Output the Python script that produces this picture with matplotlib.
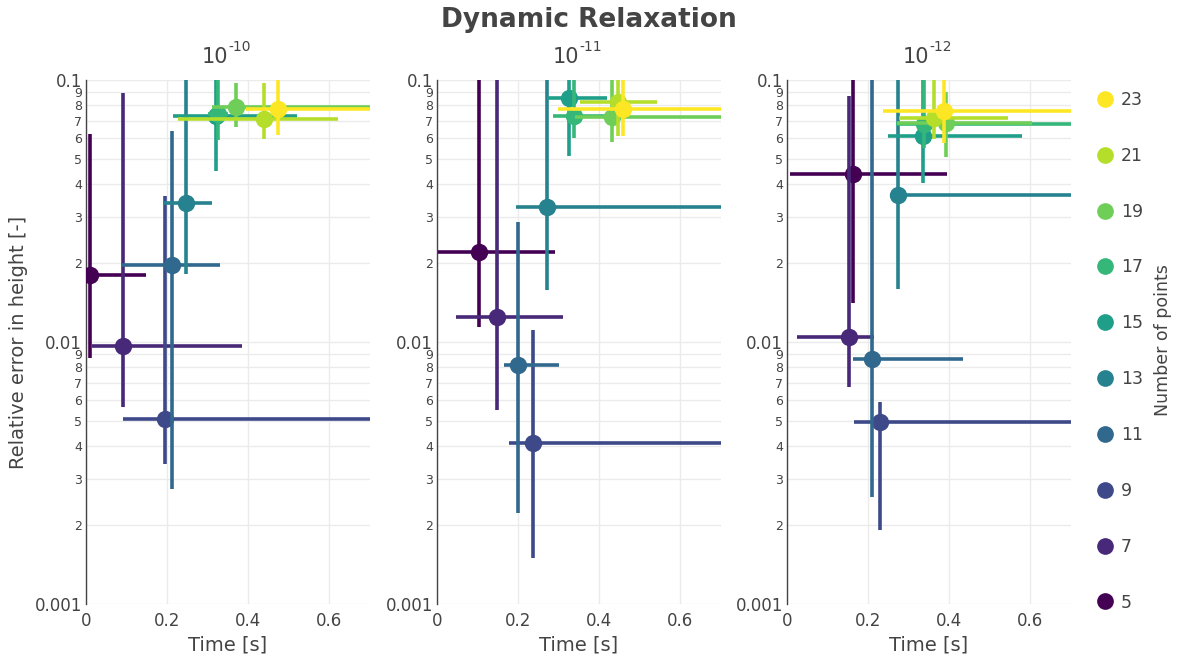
import matplotlib
matplotlib.use("Agg")
import matplotlib.pyplot as plt
from matplotlib.lines import Line2D
from matplotlib.ticker import FixedLocator, FixedFormatter, NullLocator
import numpy as np

# number of points per series (one colour each)
n_points = [5, 7, 9, 11, 13, 15, 17, 19, 21, 23]
colors = ["#440154", "#482878", "#3e4989", "#31688e", "#26828e",
          "#1f9e89", "#35b779", "#6ece58", "#b5de2b", "#fde725"]

tolerances = ["-10", "-11", "-12"]

# tolerance 1e-10
t10_x = [0.010, 0.091, 0.195, 0.212, 0.246, 0.320, 0.325, 0.369, 0.438, 0.473]
t10_y = [0.0180, 0.00966, 0.00508, 0.0197, 0.0340, 0.0730, 0.0740, 0.0789, 0.0710, 0.0775]
t10_xlo = [-0.03, 0.015, 0.091, 0.089, 0.190, 0.214, 0.300, 0.310, 0.227, 0.394]
t10_xhi = [0.148, 0.385, 0.95, 0.330, 0.310, 0.520, 0.350, 0.90, 0.620, 0.85]
t10_ylo = [0.0087, 0.00565, 0.00342, 0.00275, 0.0182, 0.045, 0.059, 0.066, 0.0595, 0.0617]
t10_yhi = [0.062, 0.089, 0.036, 0.064, 0.15, 0.15, 0.15, 0.097, 0.0974, 0.15]

# tolerance 1e-11
t11_x = [0.103, 0.148, 0.236, 0.200, 0.270, 0.325, 0.338, 0.431, 0.446, 0.458]
t11_y = [0.0221, 0.01245, 0.00412, 0.00817, 0.0327, 0.0853, 0.0730, 0.0720, 0.0824, 0.0775]
t11_xlo = [0.003, 0.047, 0.177, 0.165, 0.195, 0.270, 0.285, 0.340, 0.352, 0.298]
t11_xhi = [0.290, 0.310, 0.95, 0.300, 0.95, 0.418, 0.450, 0.95, 0.542, 0.95]
t11_ylo = [0.0114, 0.0055, 0.0015, 0.00222, 0.0158, 0.0513, 0.060, 0.058, 0.061, 0.061]
t11_yhi = [0.15, 0.15, 0.0111, 0.0287, 0.15, 0.15, 0.15, 0.15, 0.15, 0.15]

# tolerance 1e-12
t12_x = [0.163, 0.153, 0.229, 0.209, 0.273, 0.335, 0.337, 0.392, 0.362, 0.387]
t12_y = [0.0438, 0.01045, 0.00495, 0.0086, 0.0364, 0.0611, 0.0680, 0.0686, 0.0716, 0.0762]
t12_xlo = [0.007, 0.025, 0.165, 0.163, 0.254, 0.249, 0.268, 0.270, 0.276, 0.236]
t12_xhi = [0.394, 0.214, 0.95, 0.434, 0.95, 0.579, 0.95, 0.603, 0.544, 0.95]
t12_ylo = [0.0141, 0.00673, 0.00191, 0.00257, 0.0159, 0.0405, 0.055, 0.051, 0.0595, 0.0575]
t12_yhi = [0.15, 0.087, 0.0059, 0.15, 0.15, 0.15, 0.15, 0.090, 0.15, 0.15]

panels = [
    (t10_x, t10_y, t10_xlo, t10_xhi, t10_ylo, t10_yhi),
    (t11_x, t11_y, t11_xlo, t11_xhi, t11_ylo, t11_yhi),
    (t12_x, t12_y, t12_xlo, t12_xhi, t12_ylo, t12_yhi),
]

TXT = "#444444"
GRID = "#ebebeb"
W, H = 1177, 667

fig = plt.figure(figsize=(W / 100, H / 100), dpi=100)
plt.rcParams['font.family'] = ['DejaVu Sans']

# y ticks: 0.001 .. 0.1 with the in-between digits labelled small
yticks, ylabels = [], []
for dec in [0.001, 0.01]:
    for k in range(1, 10):
        yticks.append(dec * k)
        ylabels.append(str(dec) if k == 1 else str(k))
yticks.append(0.1)
ylabels.append("0.1")

lefts = [86, 437, 787]
for i, (px, py, pxlo, pxhi, pylo, pyhi) in enumerate(panels):
    ax = fig.add_axes([lefts[i] / W, (H - 604) / H, 284 / W, 524 / H])
    ax.set_yscale('log')
    for j in range(len(n_points)):
        xerr = [[px[j] - pxlo[j]], [pxhi[j] - px[j]]]
        yerr = [[py[j] - pylo[j]], [pyhi[j] - py[j]]]
        ax.errorbar([px[j]], [py[j]], xerr=xerr, yerr=yerr, fmt='o',
                    color=colors[j], ms=11.5, elinewidth=2.6, capsize=0,
                    zorder=3 + j)
    ax.set_xlim(0, 0.7)
    ax.set_ylim(0.001, 0.1)
    ax.set_xticks([0, 0.2, 0.4, 0.6])
    ax.set_xticklabels(["0", "0.2", "0.4", "0.6"])
    ax.yaxis.set_major_locator(FixedLocator(yticks))
    ax.yaxis.set_major_formatter(FixedFormatter(ylabels))
    ax.yaxis.set_minor_locator(NullLocator())
    ax.tick_params(axis='both', length=0, colors=TXT, labelsize=12, pad=6)
    ax.tick_params(axis='y', pad=3)
    for lab, val in zip(ax.get_yticklabels(), ylabels):
        lab.set_fontsize(12 if "0" in val else 9)
    ax.grid(True, color=GRID, lw=1)
    ax.set_axisbelow(True)
    for s in ['top', 'right', 'bottom']:
        ax.spines[s].set_visible(False)
    ax.spines['left'].set_color(TXT)
    ax.spines['left'].set_linewidth(1)
    # panel title "10" with a raised small exponent
    ax.text(0.5, 1.025, "10", transform=ax.transAxes, ha='right', va='bottom',
            fontsize=15, color=TXT)
    ax.text(0.5, 1.05, tolerances[i], transform=ax.transAxes, ha='left', va='bottom',
            fontsize=10, color=TXT)
    ax.set_xlabel("Time [s]", fontsize=14, color=TXT, labelpad=4)
    if i == 0:
        ax.set_ylabel("Relative error in height [-]", fontsize=14, color=TXT, labelpad=5)

fig.text(0.5, 1 - 20 / H, "Dynamic Relaxation", ha='center', va='center',
         fontsize=19, fontweight='bold', color=TXT)

handles = [Line2D([], [], ls='none', marker='o', ms=11, color=c) for c in colors[::-1]]
labels = [str(n) for n in n_points[::-1]]
leg = fig.legend(handles, labels, loc='upper left', bbox_to_anchor=(1088 / W, 1 - 84 / H),
                 frameon=False, fontsize=12.5, labelspacing=2.18, handletextpad=0.3,
                 handlelength=1.2, borderaxespad=0)
for t in leg.get_texts():
    t.set_color(TXT)
fig.text(1163 / W, 1 - 340 / H, "Number of points", rotation=90, ha='center', va='center',
         fontsize=12.5, color=TXT)

fig.savefig("out.png", dpi=100)
